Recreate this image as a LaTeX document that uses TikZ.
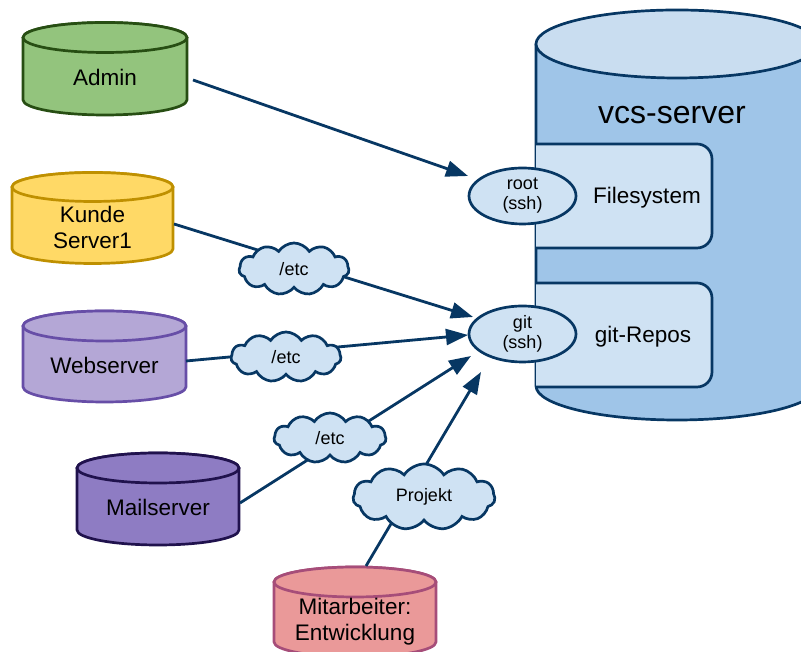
\documentclass[tikz,border=0pt]{standalone}
\usepackage{fontspec}
\setmainfont{Liberation Sans}
\usetikzlibrary{arrows.meta,shapes.symbols,shapes.geometric}
\definecolor{navy}{HTML}{073763}
\definecolor{lb2}{HTML}{9FC5E8}
\definecolor{lb3}{HTML}{CFE2F3}
\definecolor{lb4}{HTML}{C9DDF0}
\definecolor{gfill}{HTML}{93C47D}\definecolor{gline}{HTML}{274E13}
\definecolor{yfill}{HTML}{FFD966}\definecolor{yline}{HTML}{BF9000}
\definecolor{wfill}{HTML}{B4A7D6}\definecolor{wline}{HTML}{674EA7}
\definecolor{mfill}{HTML}{8E7CC3}\definecolor{mline}{HTML}{20124D}
\definecolor{rfill}{HTML}{EA9999}\definecolor{rline}{HTML}{A64D79}
\newcommand\drawcyl[7]{%
  \path[fill=#1,draw=#2,line width=2.7pt,line join=round]
    ({#3-#6},#4) -- ({#3-#6},#5)
    arc[start angle=180,end angle=360,x radius=#6,y radius=#7]
    -- ({#3+#6},#4) arc[start angle=0,end angle=180,x radius=#6,y radius=#7] -- cycle;
  \path[fill=#1,draw=#2,line width=2.7pt] (#3,#4) ellipse[x radius=#6,y radius=#7];}
\tikzset{
  lbl/.style={font=\fontsize{22.5}{26}\selectfont,align=center,inner sep=0pt},
  arr/.style={draw=navy,line width=2.8pt,-{Triangle[length=22pt,width=16pt]}},
  cloudbox/.style={cloud,cloud puffs=11,cloud puff arc=115,cloud ignores aspect,
    fill=lb3,draw=navy,line width=2.7pt,inner sep=0pt,
    font=\fontsize{18}{20}\selectfont},
  port/.style={ellipse,fill=lb3,draw=navy,line width=2.7pt,inner sep=0pt,
    minimum width=107pt,minimum height=56pt,font=\fontsize{18}{20}\selectfont,align=center},
  inbox/.style={fill=lb3,draw=navy,line width=2.7pt,line join=round}
}
\begin{document}
\begin{tikzpicture}[x=1pt,y=1pt]
\useasboundingbox (0,0) rectangle (801,652);
\clip (0,0) rectangle (801,652);
% vcs-server cylinder
\path[fill=lb2,draw=navy,line width=2.7pt,line join=round]
  (536,608) -- (536,266)
  arc[start angle=180,end angle=360,x radius=141,y radius=34]
  -- (818,608) -- cycle;
\path[fill=lb4,draw=navy,line width=2.7pt] (677,608) ellipse[x radius=141,y radius=34];
\node[font=\fontsize{32}{36}\selectfont,inner sep=0pt] (vcs) at (672,537) {vcs-server};
% inner boxes
\path[inbox] (536,508) -- (697,508) arc[start angle=90,end angle=0,radius=15]
  -- (712,419) arc[start angle=0,end angle=-90,radius=15] -- (536,404);
\path[inbox] (536,369) -- (697,369) arc[start angle=90,end angle=0,radius=15]
  -- (712,280) arc[start angle=0,end angle=-90,radius=15] -- (536,265);
\node[lbl] (fs) at (647,454) {Filesystem};
\node[lbl] (repos) at (643,315) {git-Repos};
% client cylinders
\drawcyl{gfill}{gline}{105}{614.5}{552}{82}{15}
\node[lbl] (admin) at (105,575) {Admin};
\drawcyl{yfill}{yline}{92.5}{465}{403}{80.5}{14.5}
\node[lbl] (kunde) at (92.5,425) {Kunde\\Server1};
\drawcyl{wfill}{wline}{104.5}{326}{265}{81.5}{15}
\node[lbl] (web) at (104.5,287) {Webserver};
\drawcyl{mfill}{mline}{158}{184}{122}{81}{15}
\node[lbl] (mail) at (158,145) {Mailserver};
\drawcyl{rfill}{rline}{355}{70}{10}{81}{15}
\node[lbl] (mitarb) at (355,30) {Mitarbeiter:\\Entwicklung};
% connector end points
\coordinate (adminout) at (193,572);
\coordinate (rootin) at (468,476);
\coordinate (kundeout) at (174,428);
\coordinate (gitinA) at (473,335);
\coordinate (webout) at (186,291);
\coordinate (gitinB) at (468,317);
\coordinate (mailout) at (240,149);
\coordinate (gitinC) at (471,296);
\coordinate (mitout) at (366,86);
\coordinate (gitinD) at (481,280);
\draw[arr] (adminout) -- (rootin);
\draw[arr] (kundeout) -- (gitinA);
\draw[arr] (webout) -- (gitinB);
\draw[arr] (mailout) -- (gitinC);
\draw[arr] (mitout) -- (gitinD);
% clouds
\node[cloudbox,minimum width=110pt,minimum height=52pt] (c1) at (294,383) {/etc};
\node[cloudbox,minimum width=110pt,minimum height=50pt] (c2) at (286,295) {/etc};
\node[cloudbox,minimum width=112pt,minimum height=50pt] (c3) at (330,214) {/etc};
\node[cloudbox,minimum width=142pt,minimum height=66pt] (c4) at (424,155) {Projekt};
% ports
\node[port] (root) at (522.5,456) {root\\(ssh)};
\node[port] (git) at (522.5,318) {git\\(ssh)};
\end{tikzpicture}
\end{document}
